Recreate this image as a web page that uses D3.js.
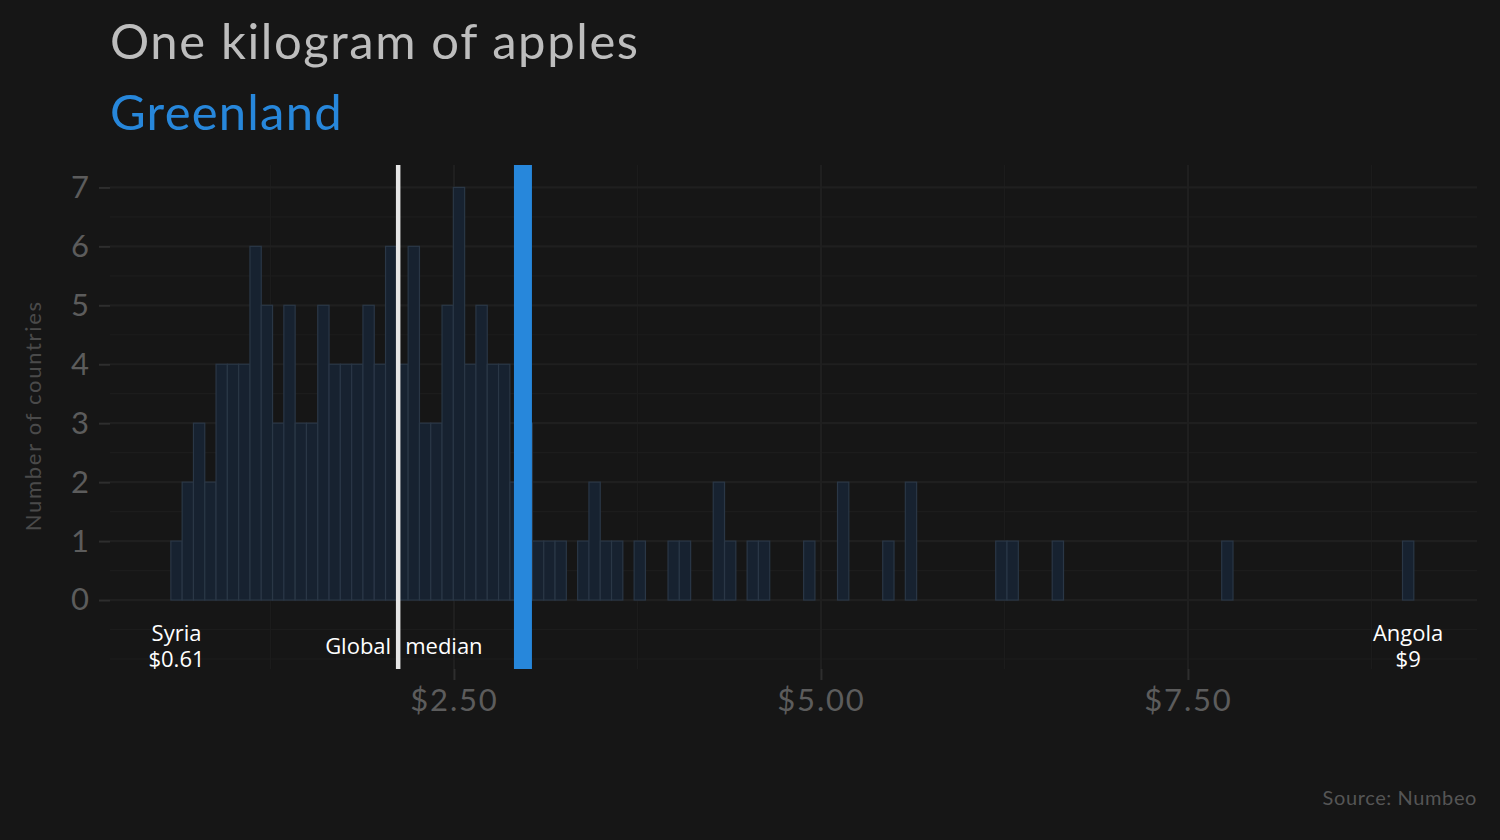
<!DOCTYPE html>
<html>
<head>
<meta charset="utf-8">
<script src="https://cdn.jsdelivr.net/npm/d3@7"></script>
<style>
  body { margin: 0; background: #161616; }
  svg { display: block; }
</style>
</head>
<body>
<svg id="chart" width="1500" height="840"></svg>
<script>
// price of one kilogram of apples, USD, one count per country
const priceMin = 0.61;   // Syria
const priceMax = 9;      // Angola
const binCount = 110;
const binCounts = [
  1, 2, 3, 2, 4, 4, 4, 6, 5, 3, 5, 3, 3, 5, 4, 4,
  4, 5, 4, 6, 4, 6, 3, 3, 5, 7, 4, 5, 4, 4, 2, 3,
  1, 1, 1, 0, 1, 2, 1, 1, 0, 1, 0, 0, 1, 1, 0, 0, 2, 1, 0, 1, 1, 0, 0, 0, 1,
  0, 0, 2, 0, 0, 0, 1, 0, 2, 0, 0, 0, 0, 0, 0, 0, 1, 1, 0, 0, 0, 1,
  0, 0, 0, 0, 0, 0, 0, 0, 0, 0, 0, 0, 0, 0, 1,
  0, 0, 0, 0, 0, 0, 0, 0, 0, 0, 0, 0, 0, 0, 0, 1
];
const medianPrice = 2.12;
const countryName = "Greenland";
const countryPrice = 2.97;
const extremes = [
  { name: "Syria", label: "$0.61", price: 0.61 },
  { name: "Angola", label: "$9", price: 9 }
];
const xTickValues = [2.5, 5, 7.5];
const xMinorValues = [1.25, 3.75, 6.25, 8.75];
const yTickValues = [0, 1, 2, 3, 4, 5, 6, 7];

const svg = d3.select("#chart");
const m = { left: 110, right: 1477, top: 165, bottom: 669 };
const futura = "Lato, 'DejaVu Sans', sans-serif";
const blue = "#2787db";

const x = d3.scaleLinear().domain([0.157, 9.469]).range([m.left, m.right]);
const y = d3.scaleLinear().domain([-1.17, 7.38]).range([m.bottom, m.top]);

// build the bins from the edges
const binWidth = (priceMax - priceMin) / (binCount - 1);
const bins = binCounts.map((n, i) => ({
  x0: priceMin + binWidth * (i - 0.5),
  x1: priceMin + binWidth * (i + 0.5),
  n: n
}));

// grid
const grid = svg.append("g");
const yMinor = d3.range(-1, 7.5, 0.5).filter(v => v % 1 !== 0 || v < 0);
grid.selectAll(".ym").data(yMinor).join("line")
  .attr("x1", m.left).attr("x2", m.right)
  .attr("y1", d => y(d)).attr("y2", d => y(d))
  .attr("stroke", "#1c1c1c").attr("stroke-width", 1.2);
grid.selectAll(".xm").data(xMinorValues).join("line")
  .attr("x1", d => x(d)).attr("x2", d => x(d))
  .attr("y1", m.top).attr("y2", m.bottom)
  .attr("stroke", "#1c1c1c").attr("stroke-width", 1.2);
grid.selectAll(".yM").data(yTickValues).join("line")
  .attr("x1", m.left).attr("x2", m.right)
  .attr("y1", d => y(d)).attr("y2", d => y(d))
  .attr("stroke", "#1f1f1f").attr("stroke-width", 2.2);
grid.selectAll(".xM").data(xTickValues).join("line")
  .attr("x1", d => x(d)).attr("x2", d => x(d))
  .attr("y1", m.top).attr("y2", m.bottom)
  .attr("stroke", "#1f1f1f").attr("stroke-width", 2.2);

// axes
const yAxis = svg.append("g")
  .attr("transform", `translate(${m.left},0)`)
  .call(d3.axisLeft(y).tickValues(yTickValues).tickSize(11).tickPadding(10));
const xAxis = svg.append("g")
  .attr("transform", `translate(0,${m.bottom})`)
  .call(d3.axisBottom(x).tickValues(xTickValues).tickSize(11).tickPadding(9)
    .tickFormat(d => "$" + d3.format(".2f")(d)));
[yAxis, xAxis].forEach(a => {
  a.select(".domain").remove();
  a.selectAll(".tick line").attr("stroke", "#2e2e2e").attr("stroke-width", 2);
  a.selectAll(".tick text").attr("fill", "#5c5c5c")
    .style("font-family", futura).style("font-size", "31px");
});
xAxis.selectAll(".tick text").style("letter-spacing", "1.8px");

// histogram bars
svg.append("g").selectAll("rect").data(bins).join("rect")
  .attr("x", d => x(d.x0))
  .attr("width", d => x(d.x1) - x(d.x0))
  .attr("y", d => y(d.n))
  .attr("height", d => y(0) - y(d.n))
  .attr("fill", "#172230")
  .attr("stroke", "#2a3746")
  .attr("stroke-width", 1.2);

// median and highlighted country
svg.append("line")
  .attr("x1", x(medianPrice)).attr("x2", x(medianPrice))
  .attr("y1", m.top).attr("y2", m.bottom)
  .attr("stroke", "#e6e6e6").attr("stroke-width", 4.5);
svg.append("line")
  .attr("x1", x(countryPrice)).attr("x2", x(countryPrice))
  .attr("y1", m.top).attr("y2", m.bottom)
  .attr("stroke", blue).attr("stroke-width", 18);

// annotations
const note = svg.append("g")
  .style("font-family", "'Open Sans', 'Noto Sans', sans-serif")
  .style("font-size", "22px").attr("fill", "#ffffff");
extremes.forEach(e => {
  note.append("text").attr("text-anchor", "middle")
    .attr("x", x(e.price)).attr("y", 641).text(e.name);
  note.append("text").attr("text-anchor", "middle")
    .attr("x", x(e.price)).attr("y", 667).text(e.label);
});
note.append("text").attr("x", x(medianPrice) - 7).attr("y", 654)
  .attr("text-anchor", "end").text("Global");
note.append("text").attr("x", x(medianPrice) + 7).attr("y", 654)
  .attr("text-anchor", "start").text("median");

// titles
svg.append("text").attr("x", 110).attr("y", 59)
  .style("font-family", futura).style("font-size", "49px")
  .style("letter-spacing", "1.6px")
  .attr("fill", "#bdbdbd").text("One kilogram of apples");
svg.append("text").attr("x", 110).attr("y", 130)
  .style("font-family", futura).style("font-size", "49px")
  .style("letter-spacing", "1.2px")
  .attr("fill", blue).text(countryName);

svg.append("text")
  .attr("transform", `translate(41,${(y(0) + y(7)) / 2 + 22}) rotate(-90)`)
  .attr("text-anchor", "middle")
  .style("font-family", futura).style("font-size", "22px")
  .style("letter-spacing", "1.7px")
  .attr("fill", "#4a4a4a").text("Number of countries");

svg.append("text").attr("x", 1477).attr("y", 805)
  .attr("text-anchor", "end")
  .style("font-family", futura).style("font-size", "20px")
  .style("letter-spacing", "0.6px")
  .attr("fill", "#555555").text("Source: Numbeo");
</script>
</body>
</html>
